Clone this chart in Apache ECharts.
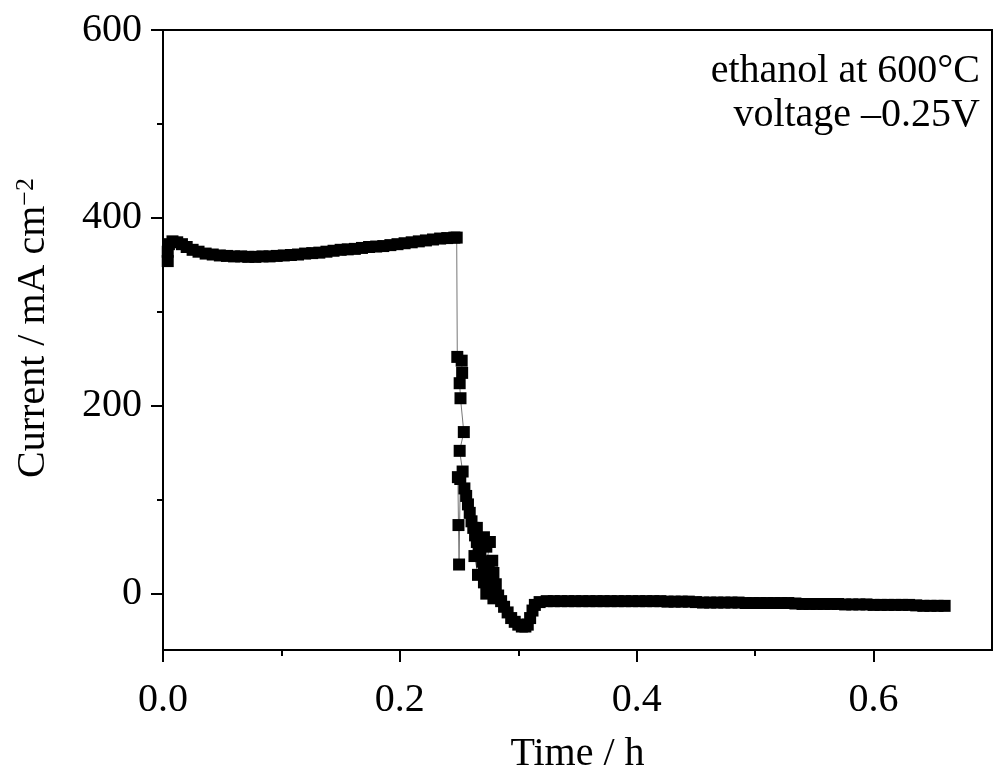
<!DOCTYPE html>
<html>
<head>
<meta charset="utf-8">
<script src="https://cdn.jsdelivr.net/npm/echarts@6/dist/echarts.min.js"></script>
<style>
    html, body {margin:0;padding:0;background:#fff;}
    #chart {width:994px;height:771px;}
</style>
</head>
<body>
<div id="chart"></div>
<script>
    // ---- data (time in h, current in mA cm-2) ----
    // steady part before the switch
    var plateauTime = [0.004, 0.004, 0.005, 0.008, 0.012, 0.016, 0.020, 0.025, 0.030, 0.036, 0.042, 0.048, 0.054, 0.060,
        0.066, 0.072, 0.078, 0.084, 0.090, 0.096, 0.102, 0.108, 0.114, 0.120, 0.126, 0.132, 0.138, 0.144, 0.150,
        0.156, 0.162, 0.168, 0.174, 0.180, 0.186, 0.192, 0.198, 0.204, 0.210, 0.216, 0.222, 0.228, 0.234, 0.240,
        0.246, 0.248];
    var plateauCurrent = [354, 364, 372, 375, 374, 372, 369, 366, 364, 362, 361, 360, 359.5, 359,
        359, 358.5, 358.5, 359, 359, 359.5, 360, 360.5, 361, 362, 362.5, 363, 364, 365, 366,
        366.5, 367, 368, 369, 369.5, 370, 371, 372, 373, 374, 375, 376, 377, 378, 378.5,
        379, 379];

    // the scattered drop
    var dropTime = [0.2485, 0.2522, 0.2526, 0.2505, 0.2512, 0.2540, 0.2505, 0.2530, 0.2490, 0.2495, 0.2500,
        0.2510, 0.2545, 0.2560, 0.2575, 0.2590, 0.2605, 0.2620, 0.2635, 0.2650, 0.2665, 0.2680, 0.2695,
        0.2710, 0.2725, 0.2650, 0.2710, 0.2630, 0.2660, 0.2730, 0.2760, 0.2710, 0.2750, 0.2780, 0.2770,
        0.2790, 0.2730, 0.2770, 0.2810, 0.2790, 0.2830, 0.2855, 0.2880, 0.2910, 0.2940, 0.2970, 0.3000,
        0.3030, 0.3060, 0.3080, 0.3100, 0.3120, 0.3140];
    var dropCurrent = [252, 248, 235, 224, 208, 172, 152, 130, 124, 73, 31,
        122, 112, 104, 95, 86, 77, 70, 62, 55, 48, 41, 34,
        27, 21, 70, 60, 40, 20, 50, 55, 12, 30, 35, 15,
        22, 0, 5, 10, -5, -2, -8, -14, -20, -26, -30, -33,
        -35, -35, -33, -26, -18, -12];

    // flat tail
    var tailTime = [0.318, 0.324, 0.330, 0.336, 0.342, 0.348, 0.354, 0.360, 0.366, 0.372, 0.378, 0.384, 0.390,
        0.396, 0.402, 0.408, 0.414, 0.420, 0.426, 0.432, 0.438, 0.444, 0.450, 0.456, 0.462, 0.468, 0.474,
        0.480, 0.486, 0.492, 0.498, 0.504, 0.510, 0.516, 0.522, 0.528, 0.534, 0.540, 0.546, 0.552, 0.558,
        0.564, 0.570, 0.576, 0.582, 0.588, 0.594, 0.600, 0.606, 0.612, 0.618, 0.624, 0.630, 0.636, 0.642,
        0.648, 0.654, 0.660];
    var tailCurrent = [-9, -8, -8, -8, -8, -8, -8, -8, -8, -8, -8, -8, -8,
        -8, -8, -8, -8, -8, -8.5, -8.5, -8.5, -8.5, -9, -9.5, -9.5, -9.5, -9.5,
        -9.5, -9.5, -10, -10, -10, -10, -10, -10, -10, -10.5, -11, -11, -11, -11,
        -11, -11, -11.5, -11.5, -11.5, -11.5, -12, -12, -12, -12, -12, -12, -12.5, -13,
        -13, -13, -13];

    // ticks
    var xMajorTicks = [0, 0.2, 0.4, 0.6];
    var xMinorTicks = [0.1, 0.3, 0.5];
    var yMajorTicks = [0, 200, 400, 600];
    var yMinorTicks = [100, 300, 500];
    var noteLines = ['ethanol at 600°C', 'voltage \u20130.25V'];

    function pairs(xs, ys) {
        var out = [];
        for (var i = 0; i < xs.length; i++) out.push([xs[i], ys[i]]);
        return out;
    }
    var seriesData = pairs(plateauTime, plateauCurrent)
        .concat(pairs(dropTime, dropCurrent))
        .concat(pairs(tailTime, tailCurrent));

    var FONT = '"Liberation Serif", "DejaVu Serif", serif';

    var chart = echarts.init(document.getElementById('chart'), null, {renderer: 'canvas'});
    var option = {
        animation: false,
        backgroundColor: '#fff',
        grid: {
            left: 163, right: 2, top: 30, bottom: 121,
            outerBoundsMode: 'none',
            show: true, borderColor: '#000', borderWidth: 2, backgroundColor: 'transparent'
        },
        xAxis: [
            {
                type: 'value', min: 0, max: 0.7, position: 'bottom',
                name: 'Time / h', nameLocation: 'middle', nameGap: 84,
                nameTextStyle: {fontFamily: FONT, fontSize: 40, color: '#000'},
                axisLine: {show: true, onZero: false, lineStyle: {color: '#000', width: 2}},
                axisTick: {show: true, length: 12, customValues: xMajorTicks, lineStyle: {color: '#000', width: 2}},
                axisLabel: {
                    customValues: xMajorTicks, margin: 30,
                    fontFamily: FONT, fontSize: 40, color: '#000',
                    formatter: function (v) { return v.toFixed(1); }
                },
                splitLine: {show: false}
            },
            {
                // minor ticks
                type: 'value', min: 0, max: 0.7, position: 'bottom',
                axisLine: {show: false, onZero: false},
                axisTick: {show: true, length: 6, customValues: xMinorTicks, lineStyle: {color: '#000', width: 2}},
                axisLabel: {show: false},
                splitLine: {show: false}
            }
        ],
        yAxis: [
            {
                type: 'value', min: -60, max: 600, position: 'left',
                name: '{m|Current / mA cm}{s|\u22122}', nameLocation: 'middle', nameGap: 110, nameRotate: 90,
                nameTextStyle: {
                    padding: [0, 0, 0, 24],
                    rich: {
                        m: {fontFamily: FONT, fontSize: 40, color: '#000', lineHeight: 40, padding: [16, 0, 0, 0], verticalAlign: 'bottom'},
                        s: {fontFamily: FONT, fontSize: 26, color: '#000', lineHeight: 26, verticalAlign: 'top'}
                    }
                },
                axisLine: {show: true, onZero: false, lineStyle: {color: '#000', width: 2}},
                axisTick: {show: true, length: 12, customValues: yMajorTicks, lineStyle: {color: '#000', width: 2}},
                axisLabel: {customValues: yMajorTicks, margin: 21, fontFamily: FONT, fontSize: 40, color: '#000'},
                splitLine: {show: false}
            },
            {
                type: 'value', min: -60, max: 600, position: 'left',
                axisLine: {show: false, onZero: false},
                axisTick: {show: true, length: 6, customValues: yMinorTicks, lineStyle: {color: '#000', width: 2}},
                axisLabel: {show: false},
                splitLine: {show: false}
            }
        ],
        graphic: [
            {type: 'text', right: 14, top: 51, style: {text: noteLines[0], font: '40px ' + FONT, fill: '#000'}},
            {type: 'text', right: 14, top: 95, style: {text: noteLines[1], font: '40px ' + FONT, fill: '#000'}}
        ],
        series: [
            {
                type: 'line',
                xAxisIndex: 0, yAxisIndex: 0,
                data: seriesData,
                symbol: 'rect',
                symbolSize: 12,
                showSymbol: true,
                showAllSymbol: true,
                itemStyle: {color: '#000'},
                lineStyle: {color: '#777', width: 1},
                z: 5
            }
        ]
    };
    chart.setOption(option);
</script>
</body>
</html>
